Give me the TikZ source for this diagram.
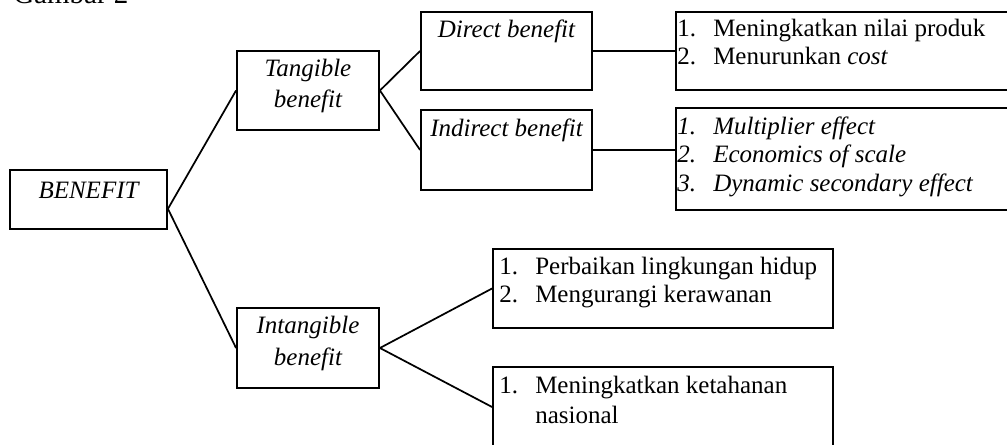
\documentclass[tikz,border=0pt]{standalone}
\usepackage{fontspec}
\setmainfont{Liberation Serif}
\usetikzlibrary{fit}
\tikzset{
  box/.style={draw, line width=1.4pt, inner sep=0pt, fit={#1}},
  txt/.style={inner sep=0pt, anchor=base, font=\fontsize{18.75}{22}\selectfont},
  itm/.style={txt, anchor=base west},
  link/.style={line width=1.3pt},
}
\newcommand\nr[1]{\makebox[27pt][l]{#1}}
\begin{document}
\begin{tikzpicture}[x=0.75pt, y=-0.75pt]
\useasboundingbox (0,0) rectangle (1007,445);
% boxes
\node[box={(10,170)(167,229)}] (benefit) {};
\node[box={(237,51)(379,130)}] (tangible) {};
\node[box={(237,308)(379,388)}] (intangible) {};
\node[box={(421,12)(592,90)}] (direct) {};
\node[box={(421,110)(592,190)}] (indirect) {};
\node[box={(676,12)(1009,90)}] (dlist) {};
\node[box={(676,108)(1009,210)}] (ilist) {};
\node[box={(493,249)(833,328)}] (plist) {};
\node[box={(493,367)(833,447)}] (nlist) {};
% connectors
\coordinate (bj) at ([yshift=-7pt]benefit.east);
\draw[link] (bj) -- (tangible.west);
\draw[link] (bj) -- (intangible.west);
\draw[link] (tangible.east) -- (direct.west);
\draw[link] (tangible.east) -- (indirect.west);
\draw[link] (direct.east) -- (dlist.west);
\draw[link] (indirect.east) -- (indirect.east -| ilist.west);
\draw[link] (intangible.east) -- (plist.west);
\draw[link] (intangible.east) -- (nlist.west);
% texts
\node[txt, anchor=base west, font=\fontsize{21.75}{26}\selectfont] (title) at (13,4) {Gambar 2};
\node[txt] (tB) at (88.5,199) {\itshape BENEFIT};
\node[txt] (tT1) at (308,77) {\itshape Tangible};
\node[txt] (tT2) at (308,108) {\itshape benefit};
\node[txt] (tI1) at (308,334) {\itshape Intangible};
\node[txt] (tI2) at (308,366) {\itshape benefit};
\node[txt] (tD) at (506.5,38) {\itshape Direct benefit};
\node[txt] (tID) at (506.5,137) {\itshape Indirect benefit};
\node[itm] (d1) at (677,37) {\nr{1.}Meningkatkan nilai produk};
\node[itm] (d2) at (677,65) {\nr{2.}Menurunkan \textit{cost}};
\node[itm] (i1) at (677,135) {\itshape\nr{1.}Multiplier effect};
\node[itm] (i2) at (677,163) {\itshape\nr{2.}Economics of scale};
\node[itm] (i3) at (677,192) {\itshape\nr{3.}Dynamic secondary effect};
\node[itm] (p1) at (499,275) {\nr{1.}Perbaikan lingkungan hidup};
\node[itm] (p2) at (499,303) {\nr{2.}Mengurangi kerawanan};
\node[itm] (n1) at (499,393) {\nr{1.}Meningkatkan ketahanan};
\node[itm] (n2) at (499,423) {\nr{}nasional};
\end{tikzpicture}
\end{document}
